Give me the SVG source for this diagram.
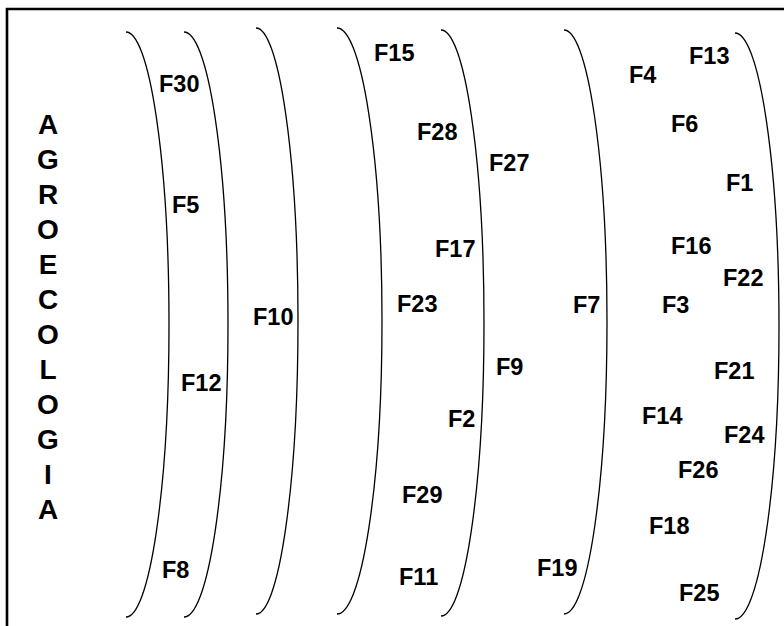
<svg xmlns="http://www.w3.org/2000/svg" width="784" height="626" viewBox="0 0 784 626">
<style>
.lbl{font-family:"Liberation Sans",Arial,sans-serif;font-weight:bold;font-size:23.5px;fill:#000}
.ttl{font-family:"Liberation Sans",Arial,sans-serif;font-weight:bold;font-size:28px;fill:#000;text-anchor:middle}
.arc{fill:none;stroke:#000;stroke-width:1.3}
.frame{fill:none;stroke:#000;stroke-width:2.6}
</style>
<rect x="0" y="0" width="784" height="626" fill="#fff"/>
<g id="frame">
<path class="frame" d="M7,626 V9 H784"/>
</g>
<g id="title">
<text class="ttl" x="48" y="134">A</text>
<text class="ttl" x="48" y="169">G</text>
<text class="ttl" x="48" y="204">R</text>
<text class="ttl" x="48" y="239">O</text>
<text class="ttl" x="48" y="274">E</text>
<text class="ttl" x="48" y="309">C</text>
<text class="ttl" x="48" y="344">O</text>
<text class="ttl" x="48" y="379">L</text>
<text class="ttl" x="48" y="414">O</text>
<text class="ttl" x="48" y="449">G</text>
<text class="ttl" x="48" y="484">I</text>
<text class="ttl" x="48" y="519">A</text>
</g>
<g id="connectors">
<path class="arc" d="M126,32 A43,292.5 0 0 1 126,617"/>
<path class="arc" d="M184,32 A44,292.5 0 0 1 184,617"/>
<path class="arc" d="M256,28 A42,293 0 0 1 256,614"/>
<path class="arc" d="M337,28 A45,293 0 0 1 337,614"/>
<path class="arc" d="M441,30 A43,293 0 0 1 441,616"/>
<path class="arc" d="M564,30 A43,292 0 0 1 564,614"/>
<path class="arc" d="M735,33 A44,293 0 0 1 735,619"/>
</g>
<g id="n-F30"><text class="lbl" x="159" y="92">F30</text></g>
<g id="n-F5"><text class="lbl" x="172" y="213">F5</text></g>
<g id="n-F10"><text class="lbl" x="253" y="325">F10</text></g>
<g id="n-F12"><text class="lbl" x="181" y="391">F12</text></g>
<g id="n-F8"><text class="lbl" x="162" y="578">F8</text></g>
<g id="n-F15"><text class="lbl" x="374" y="61">F15</text></g>
<g id="n-F28"><text class="lbl" x="417" y="140">F28</text></g>
<g id="n-F27"><text class="lbl" x="489" y="171">F27</text></g>
<g id="n-F17"><text class="lbl" x="435" y="257">F17</text></g>
<g id="n-F23"><text class="lbl" x="397" y="312">F23</text></g>
<g id="n-F7"><text class="lbl" x="573" y="313">F7</text></g>
<g id="n-F9"><text class="lbl" x="496" y="375">F9</text></g>
<g id="n-F2"><text class="lbl" x="448" y="427">F2</text></g>
<g id="n-F29"><text class="lbl" x="402" y="503">F29</text></g>
<g id="n-F11"><text class="lbl" x="399" y="585">F11</text></g>
<g id="n-F19"><text class="lbl" x="537" y="576">F19</text></g>
<g id="n-F13"><text class="lbl" x="689" y="64">F13</text></g>
<g id="n-F4"><text class="lbl" x="629" y="83">F4</text></g>
<g id="n-F6"><text class="lbl" x="671" y="132">F6</text></g>
<g id="n-F1"><text class="lbl" x="726" y="191">F1</text></g>
<g id="n-F16"><text class="lbl" x="671" y="254">F16</text></g>
<g id="n-F22"><text class="lbl" x="723" y="286">F22</text></g>
<g id="n-F3"><text class="lbl" x="662" y="313">F3</text></g>
<g id="n-F21"><text class="lbl" x="714" y="379">F21</text></g>
<g id="n-F14"><text class="lbl" x="642" y="424">F14</text></g>
<g id="n-F24"><text class="lbl" x="724" y="443">F24</text></g>
<g id="n-F26"><text class="lbl" x="678" y="478">F26</text></g>
<g id="n-F18"><text class="lbl" x="649" y="534">F18</text></g>
<g id="n-F25"><text class="lbl" x="679" y="601">F25</text></g>
</svg>
